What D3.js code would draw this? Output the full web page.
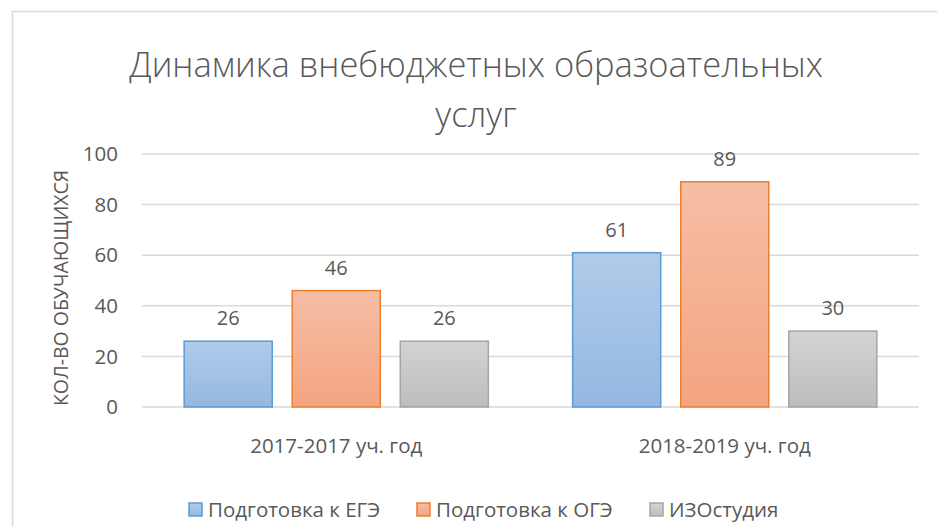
<!DOCTYPE html>
<html>
<head>
<meta charset="utf-8">
<script src="https://cdn.jsdelivr.net/npm/d3@7"></script>
<style>
  body { margin: 0; background: #fff; }
  text { font-family: "Open Sans", "Noto Sans", sans-serif; fill: #595959; }
</style>
</head>
<body>
<svg id="chart" width="937" height="526"></svg>
<script>
// chart data
const categories = ["2017-2017 уч. год", "2018-2019 уч. год"];
const seriesNames = ["Подготовка к ЕГЭ", "Подготовка к ОГЭ", "ИЗОстудия"];
const seriesValues = [
  [26, 61],
  [46, 89],
  [26, 30]
];
const yTicks = [0, 20, 40, 60, 80, 100];
const titleLines = ["Динамика внебюджетных образоательных", "услуг"];
const yTitle = "КОЛ-ВО ОБУЧАЮЩИХСЯ";

const palette = [
  { top: "#b1cbe9", bottom: "#94b8e2", stroke: "#5b9bd5" },
  { top: "#f6bea6", bottom: "#f4a480", stroke: "#ed7d31" },
  { top: "#d3d3d3", bottom: "#bdbdbd", stroke: "#a5a5a5" }
];

let svg = d3.select("#chart");

// chart frame (runs off the page to the right and bottom)
svg.append("rect")
  .attr("x", 12.5).attr("y", 11.5)
  .attr("width", 960).attr("height", 560)
  .attr("fill", "none")
  .attr("stroke", "#d9d9d9")
  .attr("stroke-width", 1.5);

let defs = svg.append("defs");
palette.forEach((p, i) => {
  let g = defs.append("linearGradient")
    .attr("id", "grad" + i)
    .attr("x1", 0).attr("y1", 0).attr("x2", 0).attr("y2", 1);
  g.append("stop").attr("offset", "0%").attr("stop-color", p.top);
  g.append("stop").attr("offset", "100%").attr("stop-color", p.bottom);
});

let plot = { left: 142, right: 919, top: 154, bottom: 407 };

let x0 = d3.scaleBand()
  .domain(categories)
  .range([plot.left, plot.right]);

let x1 = d3.scaleBand()
  .domain(d3.range(seriesNames.length))
  .range([0, x0.bandwidth()])
  .paddingInner(0.185)
  .paddingOuter(0.39);

let y = d3.scaleLinear()
  .domain([0, 100])
  .range([plot.bottom, plot.top]);

// gridlines
svg.append("g")
  .selectAll("line")
  .data(yTicks)
  .join("line")
  .attr("x1", plot.left).attr("x2", plot.right)
  .attr("y1", d => y(d)).attr("y2", d => y(d))
  .attr("stroke", "#d9d9d9")
  .attr("stroke-width", 1.5);

// y tick labels
svg.append("g")
  .selectAll("text")
  .data(yTicks)
  .join("text")
  .attr("x", 118)
  .attr("y", d => y(d))
  .attr("dy", "0.35em")
  .attr("text-anchor", "end")
  .attr("font-size", 20.5)
  .text(d => d);

// y axis title
svg.append("text")
  .attr("transform", "translate(68,288) rotate(-90)")
  .attr("text-anchor", "middle")
  .attr("font-size", 19.5)
  .text(yTitle);

// bars
let bars = [];
seriesValues.forEach((vals, s) => {
  vals.forEach((v, c) => bars.push({ s: s, c: c, v: v }));
});

let barG = svg.append("g");
barG.selectAll("rect")
  .data(bars)
  .join("rect")
  .attr("x", d => x0(categories[d.c]) + x1(d.s))
  .attr("y", d => y(d.v))
  .attr("width", x1.bandwidth())
  .attr("height", d => y(0) - y(d.v))
  .attr("fill", d => "url(#grad" + d.s + ")")
  .attr("stroke", d => palette[d.s].stroke)
  .attr("stroke-width", 1.5);

// data labels
barG.selectAll("text")
  .data(bars)
  .join("text")
  .attr("x", d => x0(categories[d.c]) + x1(d.s) + x1.bandwidth() / 2)
  .attr("y", d => y(d.v) - 16)
  .attr("text-anchor", "middle")
  .attr("font-size", 20)
  .text(d => d.v);

// category labels
svg.append("g")
  .selectAll("text")
  .data(categories)
  .join("text")
  .attr("x", d => x0(d) + x0.bandwidth() / 2)
  .attr("y", 453)
  .attr("text-anchor", "middle")
  .attr("font-size", 20.5)
  .text(d => d);

// title
svg.append("g")
  .selectAll("text")
  .data(titleLines)
  .join("text")
  .attr("x", 476)
  .attr("y", (d, i) => 77 + i * 50)
  .attr("text-anchor", "middle")
  .attr("font-size", 34.5)
  .attr("font-weight", 300)
  .text(d => d);

// legend
let legendX = [189, 417, 650];
let legend = svg.append("g")
  .selectAll("g")
  .data(seriesNames)
  .join("g")
  .attr("transform", (d, i) => "translate(" + legendX[i] + ",503)");

legend.append("rect")
  .attr("width", 13).attr("height", 13)
  .attr("fill", (d, i) => "url(#grad" + i + ")")
  .attr("stroke", (d, i) => palette[i].stroke)
  .attr("stroke-width", 1.5);

legend.append("text")
  .attr("x", 19)
  .attr("y", 7)
  .attr("dy", "0.35em")
  .attr("font-size", 20.5)
  .text(d => d);
</script>
</body>
</html>
